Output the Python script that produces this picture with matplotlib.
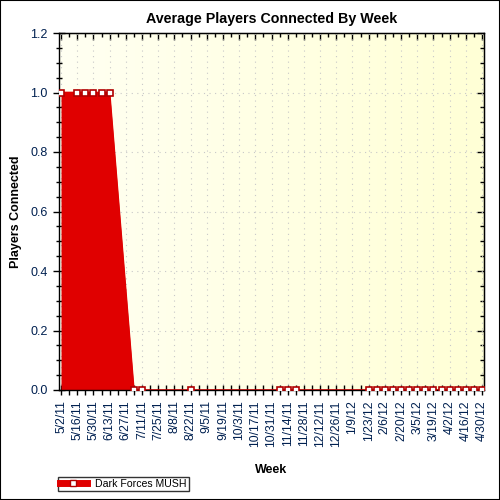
import numpy as np
import matplotlib
matplotlib.use('Agg')
import matplotlib.pyplot as plt
from matplotlib.colors import LinearSegmentedColormap
from matplotlib.lines import Line2D
from matplotlib.patches import Rectangle

plt.rcParams['font.family'] = ['Liberation Sans', 'DejaVu Sans']

# weekly x axis, labels every two weeks
week_labels = ['5/2/11', '5/16/11', '5/30/11', '6/13/11', '6/27/11', '7/11/11', '7/25/11',
               '8/8/11', '8/22/11', '9/5/11', '9/19/11', '10/3/11', '10/17/11', '10/31/11',
               '11/14/11', '11/28/11', '12/12/11', '12/26/11', '1/9/12', '1/23/12', '2/6/12',
               '2/20/12', '3/5/12', '3/19/12', '4/2/12', '4/16/12', '4/30/12']
n_weeks = 53

# weeks (index from 5/2/11) that have a sample, and the average players for each
point_weeks = [0, 2, 3, 4, 5, 6, 9, 10, 16, 27, 28, 29,
               38, 39, 40, 41, 42, 43, 44, 45, 46, 47, 48, 49, 50, 51, 52]
point_values = [1, 1, 1, 1, 1, 1, 0, 0, 0, 0, 0, 0,
                0, 0, 0, 0, 0, 0, 0, 0, 0, 0, 0, 0, 0, 0, 0]

series_name = 'Dark Forces MUSH'
fill_color = '#e00000'
edge_color = '#b00000'
label_color = '#002050'

fig = plt.figure(figsize=(5, 5), dpi=100)
ax = fig.add_axes([0.118, 0.22, 0.85, 0.714])

# light yellow gradient background
cmap = LinearSegmentedColormap.from_list('bg', ['#fffff2', '#ffffd6'])
ax.imshow(np.linspace(0, 1, 256).reshape(1, -1), cmap=cmap, aspect='auto',
          extent=[0, 1, 0, 1], transform=ax.transAxes, zorder=0)

ax.fill_between(point_weeks, point_values, 0, color=fill_color, lw=0, zorder=2)
ax.plot(point_weeks, point_values, color=fill_color, lw=1.2, zorder=3)
ax.plot(point_weeks, point_values, ls='none', marker='s', ms=5, mfc='white',
        mec=edge_color, mew=1.2, zorder=6)

ax.set_xlim(-0.25, n_weeks - 1 + 0.25)
ax.set_ylim(0, 1.2)
ax.set_xticks(np.arange(0, n_weeks, 2))
ax.set_xticklabels(week_labels, rotation=90, fontsize=8.8, color=label_color)
ax.set_xticks(np.arange(0, n_weeks), minor=True)
yt = np.arange(0, 1.21, 0.2)
ax.set_yticks(yt)
ax.set_yticklabels(['%.1f' % v for v in yt], fontsize=9, color=label_color)
ax.set_yticks(np.arange(0, 1.21, 0.05), minor=True)

ax.tick_params(axis='x', which='both', direction='inout', length=7, width=1, pad=4)
ax.tick_params(axis='y', which='major', direction='inout', length=9, width=1)
ax.tick_params(axis='y', which='minor', direction='inout', length=5, width=1)
ax.grid(True, which='major', color='#c8c8c8', ls=(0, (1, 4)), lw=0.8, zorder=1)
for s in ax.spines.values():
    s.set_linewidth(1)
    s.set_zorder(5)

# inward ticks on the top and right edges
top = ax.secondary_xaxis('top')
top.set_xticks(np.arange(0, n_weeks, 2))
top.set_xticks(np.arange(0, n_weeks), minor=True)
top.tick_params(which='major', direction='in', length=5, width=1, labeltop=False)
top.tick_params(which='minor', direction='in', length=3, width=1)
right = ax.secondary_yaxis('right')
right.set_yticks(yt)
right.set_yticks(np.arange(0, 1.21, 0.05), minor=True)
right.tick_params(which='major', direction='in', length=5, width=1, labelright=False)
right.tick_params(which='minor', direction='in', length=3, width=1)

ax.set_title('Average Players Connected By Week', fontsize=10.3, fontweight='bold', pad=7)
ax.set_xlabel('Week', fontsize=9, fontweight='bold', labelpad=12)
ax.set_ylabel('Players Connected', fontsize=9, fontweight='bold', labelpad=6)

handle = Line2D([], [], color=fill_color, lw=5, marker='s', ms=5, mfc='white', mec=edge_color)
leg = fig.legend([handle], [series_name], loc='lower left', bbox_to_anchor=(0.116, 0.018),
                 fontsize=7.6, frameon=True, fancybox=False, borderpad=0.2,
                 handlelength=2.5, handletextpad=0.8, borderaxespad=0)
leg.get_frame().set_edgecolor('black')
leg.get_frame().set_linewidth(1)

fig.patches.append(Rectangle((0, 0), 1, 1, transform=fig.transFigure, fill=False,
                             ec='black', lw=1.5))

fig.savefig('out.png', dpi=100)
